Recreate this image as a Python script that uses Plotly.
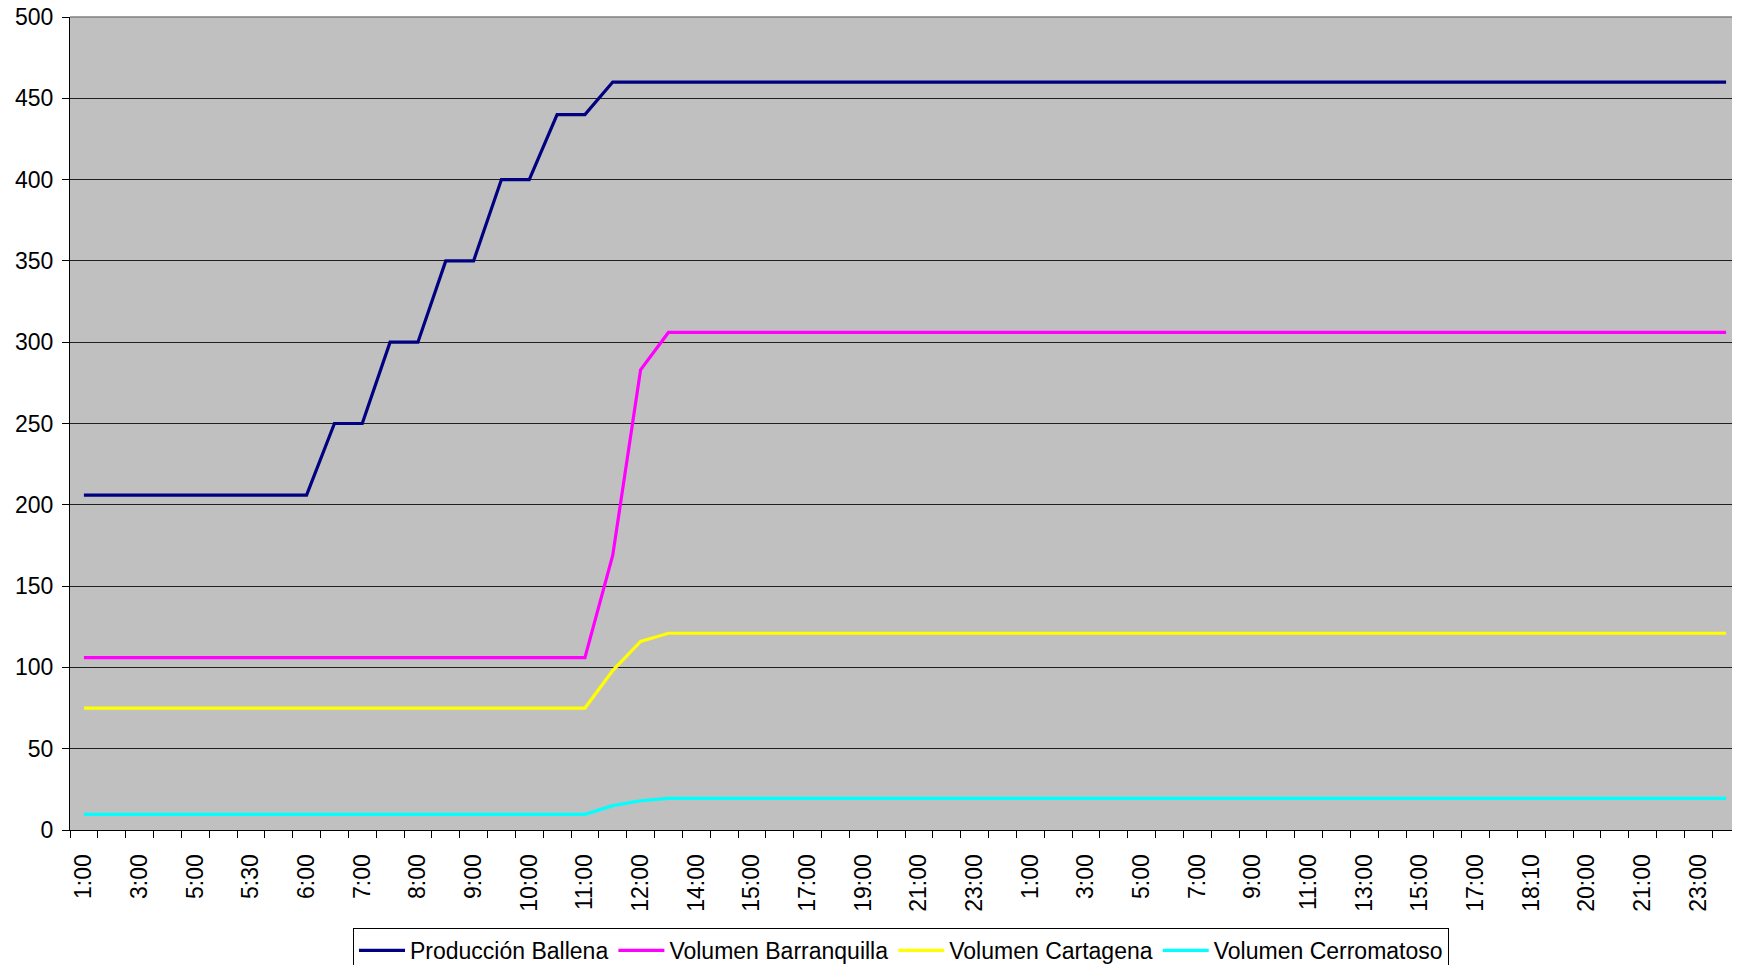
import plotly.graph_objects as go

hours = ["1:00", "2:00", "3:00", "4:00", "5:00", "5:15", "5:30", "5:45", "6:00", "6:30",
         "7:00", "7:30", "8:00", "8:30", "9:00", "9:30", "10:00", "10:30", "11:00", "11:30",
         "12:00", "13:00", "14:00", "14:30", "15:00", "16:00", "17:00", "18:00", "19:00", "20:00",
         "21:00", "22:00", "23:00", "24:00", "1:00", "2:00", "3:00", "4:00", "5:00", "6:00",
         "7:00", "8:00", "9:00", "10:00", "11:00", "12:00", "13:00", "14:00", "15:00", "16:00",
         "17:00", "18:00", "18:10", "19:00", "20:00", "20:30", "21:00", "22:00", "23:00", "24:00"]

produccion_ballena = [206, 206, 206, 206, 206, 206, 206, 206, 206, 250,
                      250, 300, 300, 350, 350, 400, 400, 440, 440, 460,
                      460, 460, 460, 460, 460, 460, 460, 460, 460, 460,
                      460, 460, 460, 460, 460, 460, 460, 460, 460, 460,
                      460, 460, 460, 460, 460, 460, 460, 460, 460, 460,
                      460, 460, 460, 460, 460, 460, 460, 460, 460, 460]

volumen_barranquilla = [106, 106, 106, 106, 106, 106, 106, 106, 106, 106,
                        106, 106, 106, 106, 106, 106, 106, 106, 106, 169,
                        283, 306, 306, 306, 306, 306, 306, 306, 306, 306,
                        306, 306, 306, 306, 306, 306, 306, 306, 306, 306,
                        306, 306, 306, 306, 306, 306, 306, 306, 306, 306,
                        306, 306, 306, 306, 306, 306, 306, 306, 306, 306]

volumen_cartagena = [75, 75, 75, 75, 75, 75, 75, 75, 75, 75,
                     75, 75, 75, 75, 75, 75, 75, 75, 75, 98,
                     116, 121, 121, 121, 121, 121, 121, 121, 121, 121,
                     121, 121, 121, 121, 121, 121, 121, 121, 121, 121,
                     121, 121, 121, 121, 121, 121, 121, 121, 121, 121,
                     121, 121, 121, 121, 121, 121, 121, 121, 121, 121]

volumen_cerromatoso = [9.6, 9.6, 9.6, 9.6, 9.6, 9.6, 9.6, 9.6, 9.6, 9.6,
                       9.6, 9.6, 9.6, 9.6, 9.6, 9.6, 9.6, 9.6, 9.6, 15,
                       18, 19.5, 19.5, 19.5, 19.5, 19.5, 19.5, 19.5, 19.5, 19.5,
                       19.5, 19.5, 19.5, 19.5, 19.5, 19.5, 19.5, 19.5, 19.5, 19.5,
                       19.5, 19.5, 19.5, 19.5, 19.5, 19.5, 19.5, 19.5, 19.5, 19.5,
                       19.5, 19.5, 19.5, 19.5, 19.5, 19.5, 19.5, 19.5, 19.5, 19.5]

series_names = ["Producción Ballena", "Volumen Barranquilla", "Volumen Cartagena", "Volumen Cerromatoso"]
series_colors = ["#000080", "#FF00FF", "#FFFF00", "#00FFFF"]
y_ticks = [0, 50, 100, 150, 200, 250, 300, 350, 400, 450, 500]

x = list(range(len(hours)))
series = [produccion_ballena, volumen_barranquilla, volumen_cartagena, volumen_cerromatoso]

fig = go.Figure()
for name, color, vals in zip(series_names, series_colors, series):
    fig.add_trace(go.Scatter(x=x, y=vals, mode="lines", name=name,
                             line=dict(color=color, width=3.2)))

FONT = "Liberation Sans, Arial, sans-serif"

# the page body adds an 8px offset, so the figure is sized/margined to compensate
fig.update_layout(
    width=1732, height=957,
    margin=dict(l=62, r=0, t=9, b=135, autoexpand=False),
    paper_bgcolor="white",
    plot_bgcolor="#C0C0C0",
    font=dict(family=FONT, size=23, color="black"),
    showlegend=True,
    legend=dict(orientation="h", x=0.4976, xanchor="center", y=-0.1205, yanchor="top",
                bordercolor="black", borderwidth=1, bgcolor="white",
                font=dict(family=FONT, size=23, color="black"),
                itemwidth=46, tracegroupgap=0),
)

fig.update_xaxes(
    range=[-0.5, len(hours) - 0.5],
    automargin=False,
    tickmode="array",
    tickvals=x[::2],
    ticktext=hours[::2],
    tickangle=-90,
    ticks="",
    ticklen=0,
    ticklabelstandoff=14,
    ticklabeloverflow="allow",
    showgrid=False,
    zeroline=False,
    showline=True, linecolor="black", linewidth=1,
    tickfont=dict(family=FONT, size=23, color="black"),
    minor=dict(tickmode="array", tickvals=[i - 0.5 for i in range(len(hours) + 1)],
               ticks="outside", ticklen=7, tickwidth=1, tickcolor="black", showgrid=False),
)

fig.update_yaxes(
    range=[0, 500],
    automargin=False,
    tickmode="array",
    tickvals=y_ticks,
    ticks="outside", ticklen=7, tickwidth=1, tickcolor="black",
    ticklabelstandoff=4,
    ticklabeloverflow="allow",
    showgrid=True, gridcolor="#202020", gridwidth=1,
    zeroline=False,
    showline=True, linecolor="black", linewidth=1,
    tickfont=dict(family=FONT, size=23, color="black"),
)

fig.add_shape(type="line", xref="paper", yref="paper", x0=0, x1=1, y0=1, y1=1,
              line=dict(color="#808080", width=1.5))

fig.write_html("out.html")
